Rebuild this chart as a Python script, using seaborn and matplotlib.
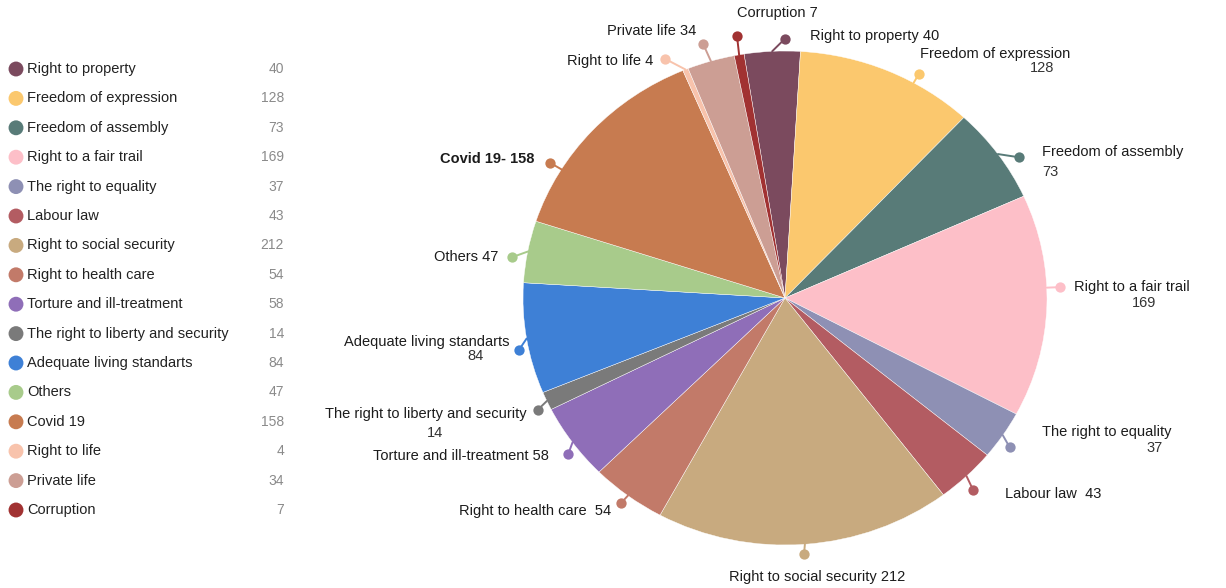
import matplotlib
matplotlib.use("Agg")
import matplotlib.pyplot as plt
import seaborn as sns
import numpy as np

# ---------------- data ----------------
categories = ["Right to property", "Freedom of expression", "Freedom of assembly",
              "Right to a fair trail", "The right to equality", "Labour law",
              "Right to social security", "Right to health care",
              "Torture and ill-treatment", "The right to liberty and security",
              "Adequate living standarts", "Others", "Covid 19", "Right to life",
              "Private life", "Corruption"]
values = [40, 128, 73, 169, 37, 43, 212, 54, 58, 14, 84, 47, 158, 4, 34, 7]
pie_names = ["Right to property", "Freedom of expression", "Freedom of assembly",
             "Right to a fair trail", "The right to equality", "Labour law ",
             "Right to social security", "Right to health care ",
             "Torture and ill-treatment", "The right to liberty and security",
             "Adequate living standarts", "Others", "Covid 19-", "Right to life",
             "Private life", "Corruption"]
colors = ["#7B4A5E", "#FBC86E", "#587B78", "#FDBFC8", "#8E90B4", "#B35C62",
          "#C8AA7F", "#C27A69", "#8F6EB8", "#7A7A7A", "#3E80D6", "#A8CB8B",
          "#C77B50", "#F8C3AC", "#CC9E94", "#A13232"]

# ---------------- label layout (style) ----------------
# dot angle (deg), dot radius, name offset(px), name ha, value offset(px) or None, value ha
label_layout = [
    (90.0, 1.05, (25, 3), "left", None, None),
    (60.6, 1.04, (1, 20), "left", (135, 6), "right"),
    (32.5, 1.06, (23, 5), "left", (23, -15), "left"),
    (2.4, 1.05, (14, 0), "left", (84, -16), "center"),
    (-35.2, 1.05, (32, 15), "left", (153, -1), "right"),
    (-47.3, 1.06, (32, -4), "left", None, None),
    (-86.0, 1.04, (13, -23), "center", None, None),
    (-127.0, 1.04, (-10, -8), "right", None, None),
    (-142.6, 1.042, (-19, -2), "right", None, None),
    (-154.4, 1.045, (-11, -4), "right", (-103, -23), "center"),
    (-168.3, 1.037, (-9, 8), "right", (-43, -6), "center"),
    (171.0, 1.055, (-14, 0), "right", None, None),
    (148.6, 1.051, (-16, 4), "right", None, None),
    (115.3, 1.071, (-12, -2), "right", None, None),
    (106.9, 1.075, (-7, 13), "right", None, None),
    (99.8, 1.076, (0, 23), "left", None, None),
]

W, H = 1226, 588
CX, CY, RX, RY = 785, 298, 262, 247

sns.set_theme(style="white")
plt.rcParams["font.family"] = ["Liberation Sans", "DejaVu Sans"]
palette = sns.color_palette(colors)

fig = plt.figure(figsize=(W / 100, H / 100), dpi=100)
fig.patch.set_facecolor("white")

# ---- pie ----
ax = fig.add_axes([0, 0, 1, 1])
start = 99.0
wedges, _ = ax.pie(values, colors=palette, startangle=start, counterclock=False,
                   radius=1.0, wedgeprops=dict(edgecolor="white", linewidth=0.3))
ax.set_aspect("auto")
ax.set_xlim(-CX / RX, (W - CX) / RX)
ax.set_ylim(-(H - CY) / RY, CY / RY)
ax.axis("off")

total = float(sum(values))
cum = np.cumsum([0] + values)
for i, (ang, r, noff, nha, voff, vha) in enumerate(label_layout):
    mid_deg = start - 360.0 * (cum[i] + values[i] / 2.0) / total
    diff = (mid_deg - ang + 180) % 360 - 180
    line_deg = mid_deg if abs(diff) < 3.5 else ang
    m = np.deg2rad(line_deg)
    a = np.deg2rad(ang)
    dx, dy = r * np.cos(a), r * np.sin(a)
    ax.plot([np.cos(m), dx], [np.sin(m), dy], color=colors[i], lw=1.4,
            solid_capstyle="round", zorder=3)
    ax.scatter([dx], [dy], s=55, color=colors[i], zorder=4, linewidths=0)
    name = pie_names[i]
    bold = "bold" if categories[i] == "Covid 19" else "normal"
    txt = f"{name} {values[i]}" if voff is None else name
    ax.annotate(txt, xy=(dx, dy), xytext=noff, textcoords="offset pixels",
                ha=nha, va="center", fontsize=10.5, color="#1c1c1c",
                fontweight=bold, zorder=5)
    if voff is not None:
        ax.annotate(str(values[i]), xy=(dx, dy), xytext=voff,
                    textcoords="offset pixels", ha=vha, va="center",
                    fontsize=10.5, color="#333333", zorder=5)

# ---- legend ----
lax = fig.add_axes([0, 0, 1, 1])
lax.set_xlim(0, W)
lax.set_ylim(H, 0)
lax.axis("off")
lax.patch.set_alpha(0)
rows = 69 + 29.4 * np.arange(len(categories))
lax.scatter(np.full(len(categories), 16), rows, s=115, c=colors, linewidths=0)
for i, cat in enumerate(categories):
    lax.text(27, rows[i], cat, ha="left", va="center", fontsize=10.5,
             color="#222222")
    lax.text(284, rows[i], str(values[i]), ha="right", va="center",
             fontsize=10, color="#8a8a8a")

fig.savefig("out.png", dpi=100, facecolor="white")
